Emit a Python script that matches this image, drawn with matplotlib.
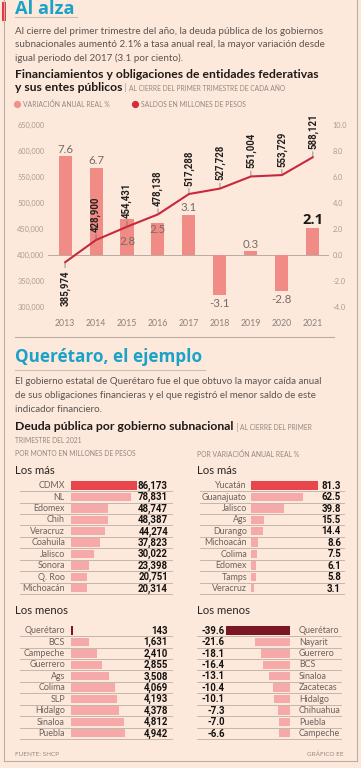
import matplotlib
matplotlib.use('Agg')
import matplotlib.pyplot as plt
from matplotlib.lines import Line2D
import matplotlib.ticker as mticker

# ---------------- data ----------------
years = [2013, 2014, 2015, 2016, 2017, 2018, 2019, 2020, 2021]
variacion = [7.6, 6.7, 2.8, 2.5, 3.1, -3.1, 0.3, -2.8, 2.1]
saldos = [385974, 428900, 454431, 478138, 517288, 527728, 551004, 553729, 588121]
left_ticks = [300000, 350000, 400000, 450000, 500000, 550000, 600000, 650000]
right_ticks = [-4, -2, 0, 2, 4, 6, 8, 10]

monto_mas_lab = ["CDMX", "NL", "Edomex", "Chih", "Veracruz", "Coahuila", "Jalisco", "Sonora", "Q. Roo", "Michoacán"]
monto_mas_val = [86173, 78831, 48747, 48387, 44274, 37823, 30022, 23398, 20751, 20314]
monto_menos_lab = ["Querétaro", "BCS", "Campeche", "Guerrero", "Ags", "Colima", "SLP", "Hidalgo", "Sinaloa", "Puebla"]
monto_menos_val = [143, 1631, 2410, 2855, 3508, 4069, 4193, 4378, 4812, 4942]
var_mas_lab = ["Yucatán", "Guanajuato", "Jalisco", "Ags", "Durango", "Michoacán", "Colima", "Edomex", "Tamps", "Veracruz"]
var_mas_val = [81.3, 62.5, 39.8, 15.5, 14.4, 8.6, 7.5, 6.1, 5.8, 3.1]
var_menos_lab = ["Querétaro", "Nayarit", "Guerrero", "BCS", "Sinaloa", "Zacatecas", "Hidalgo", "Chihuahua", "Puebla", "Campeche"]
var_menos_val = [-39.6, -21.6, -18.1, -16.4, -13.1, -10.4, -10.1, -7.3, -7.0, -6.6]

# ---------------- style ----------------
W, H = 361, 768
BG = '#fde9db'
CYAN = '#1ba2c9'
TXT = '#5d5450'
GRAY = '#938782'
LINEC = '#bcaea5'
BODY = ['Lato', 'DejaVu Sans']
NUM = ['Roboto', 'DejaVu Sans']
TITLE = ['Open Sans', 'DejaVu Sans']

fig = plt.figure(figsize=(W / 100, H / 100), dpi=100, facecolor=BG)


def X(p):
    return p / W


def Y(p):
    return 1 - p / H


fits = []   # (text, target width px, followers)
runs = []   # groups of texts laid out one after another


def T(x, y, s, size=7, **kw):
    kw.setdefault('va', 'center')
    kw.setdefault('family', BODY)
    return fig.text(X(x), Y(y), s, fontsize=size, **kw)


def hline(x0, x1, y, color=LINEC, lw=0.7):
    fig.add_artist(Line2D([X(x0), X(x1)], [Y(y), Y(y)], transform=fig.transFigure, color=color, lw=lw))


def vline(x, y0, y1, color=LINEC, lw=0.7):
    fig.add_artist(Line2D([X(x), X(x)], [Y(y0), Y(y1)], transform=fig.transFigure, color=color, lw=lw))


# borders
vline(4, 0, 761, lw=0.8)
vline(357, 0, 761, lw=0.8)
hline(4, 357, 761, lw=0.8)
hline(15, 334, 337, lw=0.8)

# accent
fig.add_artist(plt.Rectangle((X(2), Y(21)), X(4), 19 / H, transform=fig.transFigure, color='#e8353f', lw=0))

# ---------------- section 1 text ----------------
t1 = T(15, 9, "Al alza", 14, color=CYAN, weight='bold', family=TITLE)
fits.append((t1, 60, []))
hline(15, 77, 17, color='#cbbfb6', lw=0.8)
p1 = T(15, 31, "Al cierre del primer trimestre del año, la deuda pública de los gobiernos", 7, color=TXT)
p2 = T(15, 44.5, "subnacionales aumentó 2.1% a tasa anual real, la mayor variación desde", 7, color=TXT)
p3 = T(15, 58, "igual periodo del 2017 (3.1 por ciento).", 7, color=TXT)
fits.append((p1, 308, [p2, p3]))

s1 = T(15, 74, "Financiamientos y obligaciones de entidades federativas", 7.5, color='#1e1a18', weight='bold')
s2 = T(15, 87.5, "y sus entes públicos", 7.5, color='#1e1a18', weight='bold')
fits.append((s1, 303, [s2]))
s2b = T(0, 88, " | ", 6.5, color='#a99d97')
s2c = T(0, 88.5, "AL CIERRE DEL PRIMER TRIMESTRE DE CADA AÑO", 4.8, color=GRAY)
runs.append([s2, s2b, s2c])

# legend
fig.add_artist(Line2D([X(17)], [Y(104)], transform=fig.transFigure, marker='o', ms=4.2, color='#f2908b', lw=0))
T(23, 104.5, "VARIACIÓN ANUAL REAL %", 4.9, color=GRAY)
fig.add_artist(Line2D([X(135)], [Y(104)], transform=fig.transFigure, marker='o', ms=4.2, color='#d42c3c', lw=0))
T(141, 104.5, "SALDOS EN MILLONES DE PESOS", 4.9, color=GRAY)

# ---------------- main chart ----------------
axb = fig.add_axes([X(48), Y(307), (329 - 48) / W, (307 - 125) / H])
axb.set_facecolor('none')
axb.bar(years, variacion, width=0.42, color='#f08b85', zorder=2)
axb.set_ylim(-4, 10)
axb.set_xlim(2012.45, 2021.52)
axb.axhline(0, color='#b9aaa2', lw=0.7, zorder=1)
axl = axb.twinx()
axl.plot(years, saldos, color='#c8283d', lw=1.5, zorder=3, solid_capstyle='round')
axl.set_ylim(300000, 650000)
axl.set_xlim(2012.45, 2021.52)
axb.yaxis.tick_right()
axl.yaxis.tick_left()
axb.set_yticks(right_ticks)
axb.yaxis.set_major_formatter(mticker.FuncFormatter(lambda v, p: f"{v:.1f}"))
axl.set_yticks(left_ticks)
axl.yaxis.set_major_formatter(mticker.FuncFormatter(lambda v, p: f"{v:,.0f}"))
axb.set_xticks(years)
axb.set_xticklabels([str(y) for y in years])
for a in (axb, axl):
    for sp in a.spines.values():
        sp.set_visible(False)
    a.tick_params(length=0, labelsize=5.3, colors='#a89c96', pad=2.5)
    for lab in a.get_yticklabels():
        lab.set_family(BODY)
axb.tick_params(axis='x', labelsize=6.3, colors='#8c807b', pad=9)
for lab in axb.get_xticklabels():
    lab.set_family(BODY)

# bar labels
bar_dy = [7, 7, -23, -7, 7, -8, 7, -8, 8]
for i, (yr, v) in enumerate(zip(years, variacion)):
    if yr == 2021:
        kw = dict(fontsize=10.5, weight='bold', color='#1a1a1a', family=TITLE)
    else:
        kw = dict(fontsize=8.3, color='#776b66', family=BODY)
    axb.annotate(f"{v:.1f}", xy=(yr, v), xytext=(0, bar_dy[i] * 0.72), textcoords='offset points',
                 ha='center', va='center', zorder=4, **kw)

# line labels
for i, (yr, v) in enumerate(zip(years, saldos)):
    down = (i == 0)
    axl.annotate(f"{v:,}", xy=(yr, v), xytext=(0, -6 if down else 6), textcoords='offset points',
                 rotation=90, ha='center', va='top' if down else 'bottom', fontsize=6.9,
                 weight='bold', family=NUM, color='#231f1e', zorder=5,
                 arrowprops=dict(arrowstyle='-', color='#6f6561', lw=0.5, shrinkA=0, shrinkB=0))

# ---------------- section 2 text ----------------
q0 = T(15, 357, "Querétaro, el ejemplo", 14, color=CYAN, weight='bold', family=TITLE)
fits.append((q0, 188, []))
hline(15, 205, 370, color='#cbbfb6', lw=0.8)
q1 = T(15, 382, "El gobierno estatal de Querétaro fue el que obtuvo la mayor caída anual", 7, color=TXT)
q2 = T(15, 395.5, "de sus obligaciones financieras y el que registró el menor saldo de este", 7, color=TXT)
q3 = T(15, 409, "indicador financiero.", 7, color=TXT)
fits.append((q1, 308, [q2, q3]))
d1 = T(15, 427, "Deuda pública por gobierno subnacional", 7.5, color='#1e1a18', weight='bold')
fits.append((d1, 218, []))
d1b = T(0, 427.5, " | ", 6.5, color='#a99d97')
d1c = T(0, 428, "AL CIERRE DEL PRIMER", 4.8, color=GRAY)
runs.append([d1, d1b, d1c])
T(15, 440.5, "TRIMESTRE DEL 2021", 4.8, color=GRAY)

T(15, 454, "POR MONTO EN MILLONES DE PESOS", 4.9, color=GRAY)
T(197, 454, "POR VARIACIÓN ANUAL REAL %", 4.9, color=GRAY)
for xx in (15, 197):
    T(xx, 470, "Los más", 8.2, color='#2b2624')
    T(xx, 610, "Los menos", 8.2, color='#2b2624')
T(15, 754, "FUENTE: SHCP", 4.6, color=GRAY)
T(344, 754, "GRÁFICO EE", 4.6, color=GRAY, ha='right')

# ---------------- ranked lists ----------------
ROW = 11.42
PINK = '#f5a9a9'
RED = '#e8464c'
DARK = '#7b1624'


def draw_list(labels, values, row0, ax_x0, ax_x1, zero_px, px_per_unit, lab_px, val_px,
              line_x0, line_x1, first_color, val_fmt, mirrored=False):
    n = len(values)
    top = row0 - ROW / 2
    ax = fig.add_axes([X(ax_x0), Y(top + n * ROW), (ax_x1 - ax_x0) / W, n * ROW / H])
    ax.set_facecolor('none')
    ax.set_xlim(-(zero_px - ax_x0) / px_per_unit, (ax_x1 - zero_px) / px_per_unit)
    ax.set_ylim(n - 0.5, -0.5)
    ax.axis('off')
    cols = [first_color] + [PINK] * (n - 1)
    ax.barh(range(n), values, height=0.73, color=cols, lw=0)
    tr = ax.get_yaxis_transform()
    span = ax_x1 - ax_x0
    for i, (lab, v) in enumerate(zip(labels, values)):
        ax.text((lab_px - ax_x0) / span, i + 0.02, lab, transform=tr, ha='left' if mirrored else 'right',
                va='center', fontsize=6.4, color='#6c625e', family=BODY)
        ax.text((val_px - ax_x0) / span, i + 0.02, val_fmt(v), transform=tr, ha='right',
                va='center', fontsize=6.9, color='#141211', weight='bold', family=NUM)
        ax.plot([(line_x0 - ax_x0) / span, (line_x1 - ax_x0) / span], [i + 0.5, i + 0.5],
                transform=tr, color=LINEC, lw=0.6, clip_on=False)


fmt_int = lambda v: f"{v:,.0f}"
fmt_dec = lambda v: f"{v:.1f}"
draw_list(monto_mas_lab, monto_mas_val, 485.5, 13, 172, 71, 66 / 86173, 65, 168, 20, 172, RED, fmt_int)
draw_list(monto_menos_lab, monto_menos_val, 630.5, 13, 172, 71, 54 / 4942, 65, 168, 20, 172, DARK, fmt_int)
draw_list(var_mas_lab, var_mas_val, 485.5, 197, 345, 251, 67 / 81.3, 247, 341, 200, 344, RED, fmt_dec)
draw_list(var_menos_lab, var_menos_val, 630.5, 197, 345, 290, 64 / 39.6, 299, 225, 197, 341, DARK, fmt_dec,
          mirrored=True)

# ---------------- fitting / run layout ----------------
fig.canvas.draw()
r = fig.canvas.get_renderer()
for t, w, followers in fits:
    bb = t.get_window_extent(r)
    ns = t.get_fontsize() * w / bb.width
    t.set_fontsize(ns)
    for f in followers:
        f.set_fontsize(ns)
fig.canvas.draw()
for grp in runs:
    x = grp[0].get_window_extent(r).x1
    for t in grp[1:]:
        t.set_x(x / fig.bbox.width)
        fig.canvas.draw()
        x = t.get_window_extent(r).x1

fig.savefig('out.png', dpi=100, facecolor=BG)
